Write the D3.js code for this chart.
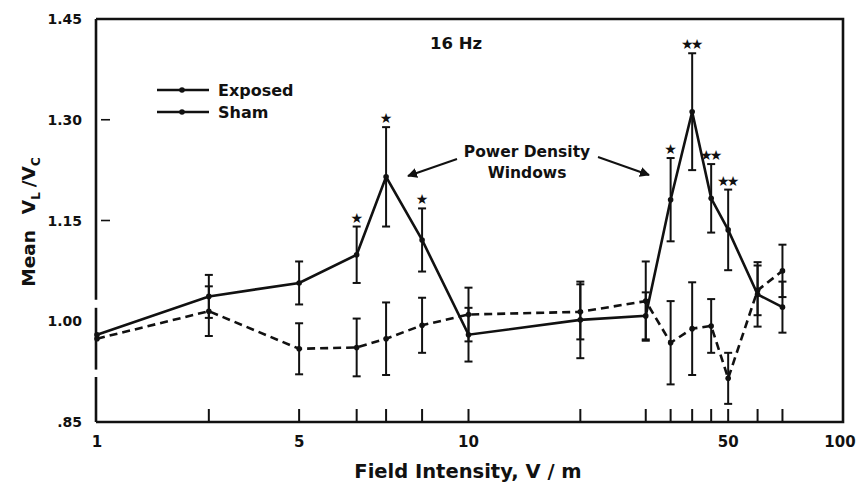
<!DOCTYPE html>
<html>
<head>
<meta charset="utf-8">
<script src="https://cdn.jsdelivr.net/npm/d3@7"></script>
<style>
  html, body { margin: 0; padding: 0; background: #fff; }
  svg { display: block; }
  text { font-family: "DejaVu Sans", "Liberation Sans", Arial, sans-serif; font-weight: bold; fill: #111; }
</style>
</head>
<body>
<svg id="chart" width="858" height="483"></svg>
<script>
// Field intensities tested (V/m) and mean Vt/Vc ratios with error bars
const fieldIntensity = [1, 2, 3.5, 5, 6, 7.5, 10, 20, 30, 35, 40, 45, 50, 60, 70];
const exposedMean = [0.980, 1.037, 1.057, 1.099, 1.215, 1.121, 0.980, 1.002, 1.008, 1.181, 1.312, 1.183, 1.136, 1.040, 1.021];
const exposedErr  = [null, 0.032, 0.032, 0.042, 0.074, 0.047, 0.040, 0.057, 0.035, 0.062, 0.087, 0.051, 0.060, 0.048, 0.038];
const shamMean    = [0.974, 1.015, 0.959, 0.961, 0.974, 0.994, 1.010, 1.014, 1.030, 0.968, 0.989, 0.993, 0.915, 1.046, 1.075];
const shamErr     = [null, 0.037, 0.038, 0.043, 0.054, 0.041, 0.040, 0.041, 0.059, 0.062, 0.069, 0.040, 0.038, 0.037, 0.039];
const significance = [0, 0, 0, 1, 1, 1, 0, 0, 0, 1, 2, 2, 2, 0, 0];

// Axis labelling
const xLabelValues = [1, 3.5, 10, 50, 100];
const xLabelTexts  = ["1", "5", "10", "50", "100"];
const yTickValues  = [0.85, 1.00, 1.15, 1.30, 1.45];
const yTickTexts   = [".85", "1.00", "1.15", "1.30", "1.45"];
const yInnerTicks  = [1.15, 1.30];
const yAxisBreaks  = [[1.020, 1.032], [0.917, 0.928]];

const svg = d3.select("#chart");
const x = d3.scaleLog().domain([1, 100]).range([97, 840]);
const y = d3.scaleLinear().domain([0.85, 1.45]).range([422, 19]);
const frameRight = 843;

// Frame: top, right, bottom
svg.append("path")
  .attr("d", `M${x(1) - 1},${y(1.45)} H${frameRight} V${y(0.85)} H${x(1) - 1}`)
  .attr("fill", "none").attr("stroke", "#111").attr("stroke-width", 2.6);

// Left axis drawn in pieces around its breaks
const leftStops = [1.45];
yAxisBreaks.forEach(b => { leftStops.push(b[1], b[0]); });
leftStops.push(0.85);
for (let i = 0; i < leftStops.length; i += 2) {
  svg.append("line")
    .attr("x1", x(1) - 1).attr("x2", x(1) - 1)
    .attr("y1", y(leftStops[i])).attr("y2", y(leftStops[i + 1]))
    .attr("stroke", "#111").attr("stroke-width", 2.6);
}

// Inner y tick dashes
svg.selectAll(".ytick").data(yInnerTicks).enter().append("line")
  .attr("x1", 101).attr("x2", 110)
  .attr("y1", d => y(d)).attr("y2", d => y(d))
  .attr("stroke", "#111").attr("stroke-width", 1.6);

// Y tick labels
svg.selectAll(".ylab").data(yTickValues).enter().append("text")
  .attr("x", 82).attr("y", d => y(d) + 5)
  .attr("text-anchor", "end").attr("font-size", 14)
  .text((d, i) => yTickTexts[i]);

// X ticks at every tested intensity (upward from the bottom edge)
svg.selectAll(".xtick").data(fieldIntensity.slice(1)).enter().append("line")
  .attr("x1", d => x(d)).attr("x2", d => x(d))
  .attr("y1", y(0.85)).attr("y2", y(0.85) - 13)
  .attr("stroke", "#111").attr("stroke-width", 2);

// X tick labels
svg.selectAll(".xlab").data(xLabelValues).enter().append("text")
  .attr("x", d => x(d)).attr("y", 447)
  .attr("text-anchor", "middle").attr("font-size", 15)
  .text((d, i) => xLabelTexts[i]);

// Axis titles
svg.append("text")
  .attr("x", 468).attr("y", 478)
  .attr("text-anchor", "middle").attr("font-size", 19.5)
  .text("Field Intensity, V / m");

const yTitle = svg.append("text")
  .attr("transform", "translate(35,222) rotate(-90)")
  .attr("text-anchor", "middle").attr("font-size", 18.5);
yTitle.append("tspan").text("Mean");
yTitle.append("tspan").attr("dx", 16).text("V");
yTitle.append("tspan").attr("font-size", 12).attr("dy", 5).text("L");
yTitle.append("tspan").attr("dx", 5).attr("dy", -5).text("/V");
yTitle.append("tspan").attr("font-size", 12).attr("dy", 5).text("C");

// Chart title
svg.append("text")
  .attr("x", 456).attr("y", 49)
  .attr("text-anchor", "middle").attr("font-size", 16.5)
  .text("16 Hz");

// Error bars
function errorBars(means, errs) {
  const rows = fieldIntensity.map((f, i) => ({ f, m: means[i], e: errs[i] })).filter(d => d.e != null);
  const g = svg.append("g").attr("stroke", "#111").attr("stroke-width", 2);
  g.selectAll(".v").data(rows).enter().append("line")
    .attr("x1", d => x(d.f)).attr("x2", d => x(d.f))
    .attr("y1", d => y(d.m + d.e)).attr("y2", d => y(d.m - d.e));
  [1, -1].forEach(s => {
    g.selectAll(".c" + s).data(rows).enter().append("line")
      .attr("x1", d => x(d.f) - 4).attr("x2", d => x(d.f) + 4)
      .attr("y1", d => y(d.m + s * d.e)).attr("y2", d => y(d.m + s * d.e));
  });
}
errorBars(shamMean, shamErr);
errorBars(exposedMean, exposedErr);

// Series lines
const line = d3.line().x(d => x(d[0])).y(d => y(d[1]));
svg.append("path")
  .datum(fieldIntensity.map((f, i) => [f, shamMean[i]]))
  .attr("d", line).attr("fill", "none").attr("stroke", "#111")
  .attr("stroke-width", 2.6).attr("stroke-dasharray", "8,5");
svg.append("path")
  .datum(fieldIntensity.map((f, i) => [f, exposedMean[i]]))
  .attr("d", line).attr("fill", "none").attr("stroke", "#111")
  .attr("stroke-width", 2.6);

// Point markers
[exposedMean, shamMean].forEach(ms => {
  svg.selectAll(null).data(fieldIntensity).enter().append("circle")
    .attr("cx", d => x(d)).attr("cy", (d, i) => y(ms[i])).attr("r", 2.8)
    .attr("fill", "#111");
});

// Significance stars above the exposed error bars (tight spacing, re-centred)
const starSpacing = -3;
svg.selectAll(".sig").data(fieldIntensity).enter().append("text")
  .attr("x", d => x(d))
  .attr("dx", starSpacing / 2)
  .attr("y", (d, i) => y(exposedMean[i] + (exposedErr[i] || 0)) - 4)
  .attr("text-anchor", "middle").attr("font-size", 14)
  .attr("letter-spacing", starSpacing)
  .text((d, i) => "\u2605".repeat(significance[i]));

// Legend
const legend = svg.append("g");
[["Exposed", 90], ["Sham", 112]].forEach(([label, ly]) => {
  legend.append("line").attr("x1", 157).attr("x2", 209).attr("y1", ly).attr("y2", ly)
    .attr("stroke", "#111").attr("stroke-width", 2.4);
  legend.append("circle").attr("cx", 182).attr("cy", ly).attr("r", 2.8).attr("fill", "#111");
  legend.append("text").attr("x", 218).attr("y", ly + 6).attr("font-size", 16).text(label);
});

// Annotation with arrows
const note = svg.append("text").attr("text-anchor", "middle").attr("font-size", 15.5);
note.append("tspan").attr("x", 527).attr("y", 157).text("Power Density");
note.append("tspan").attr("x", 527).attr("y", 178).text("Windows");

svg.append("defs").append("marker")
  .attr("id", "head").attr("viewBox", "0 0 10 10").attr("refX", 9).attr("refY", 5)
  .attr("markerWidth", 5).attr("markerHeight", 5).attr("orient", "auto")
  .append("path").attr("d", "M0,0 L10,5 L0,10 Z").attr("fill", "#111");
[[457, 159, 408, 176], [598, 157, 649, 175]].forEach(([x1, y1, x2, y2]) => {
  svg.append("line").attr("x1", x1).attr("y1", y1).attr("x2", x2).attr("y2", y2)
    .attr("stroke", "#111").attr("stroke-width", 2).attr("marker-end", "url(#head)");
});
</script>
</body>
</html>
